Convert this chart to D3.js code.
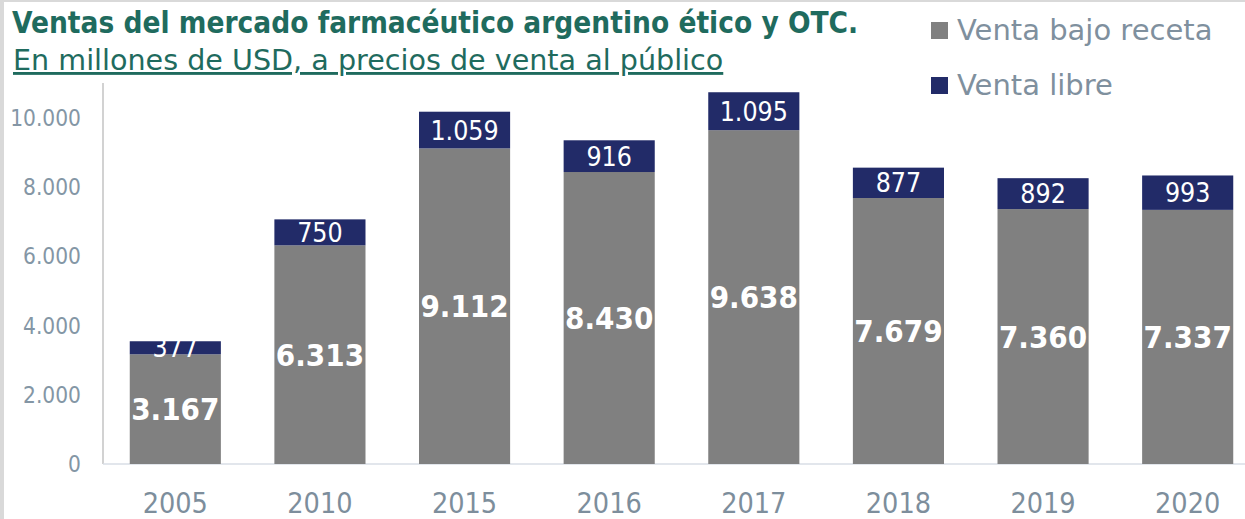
<!DOCTYPE html>
<html>
<head>
<meta charset="utf-8">
<script src="https://cdn.jsdelivr.net/npm/d3@7"></script>
<style>
body { margin: 0; background: #fff; }
text { font-family: "DejaVu Sans", sans-serif; }
.cond { font-family: "DejaVu Sans Condensed", "DejaVu Sans", sans-serif; font-stretch: condensed; }
</style>
</head>
<body>
<div id="chart"></div>
<script>
var years = ["2005", "2010", "2015", "2016", "2017", "2018", "2019", "2020"];
var bajoReceta = [3167, 6313, 9112, 8430, 9638, 7679, 7360, 7337];
var ventaLibre = [377, 750, 1059, 916, 1095, 877, 892, 993];
var yTicks = [0, 2000, 4000, 6000, 8000, 10000];
var seriesNames = ["Venta bajo receta", "Venta libre"];
var colors = ["#808080", "#222b68"];

var width = 1245, height = 519;
var fmt = function(v) { return d3.format(",")(v).replace(/,/g, "."); };

var svg = d3.select("#chart")
    .append("svg")
    .attr("width", width)
    .attr("height", height);

// frame
svg.append("rect").attr("x", 0).attr("y", 0).attr("width", width).attr("height", height).style("fill", "#fff");
svg.append("rect").attr("x", 0).attr("y", 0).attr("width", width).attr("height", 2).style("fill", "#d9d9d9");
svg.append("rect").attr("x", 0).attr("y", 0).attr("width", 4).attr("height", height).style("fill", "#d9d9d9");

var x = d3.scaleBand()
    .domain(years)
    .range([103, 1260])
    .paddingInner(0.37)
    .paddingOuter(0.185);
var y = d3.scaleLinear()
    .domain([0, 11000])
    .range([464, 83]);

var data = years.map(function(yr, i) {
    return { year: yr, a: bajoReceta[i], b: ventaLibre[i] };
});

// axes
svg.append("line")
    .attr("x1", 103).attr("x2", 103)
    .attr("y1", y(11000)).attr("y2", y(0))
    .style("stroke", "#c3c3c3").style("stroke-width", 1.5);
svg.append("line")
    .attr("x1", 103).attr("x2", width)
    .attr("y1", y(0)).attr("y2", y(0))
    .style("stroke", "#d8dee6").style("stroke-width", 1.5);

svg.selectAll(".ytick")
    .data(yTicks)
    .enter().append("text")
    .attr("class", "ytick cond")
    .attr("x", 81)
    .attr("y", function(d) { return y(d); })
    .attr("dy", "0.36em")
    .style("text-anchor", "end")
    .style("font-size", "22.5px")
    .style("fill", "#8496a5")
    .text(fmt);

svg.selectAll(".xtick")
    .data(years)
    .enter().append("text")
    .attr("class", "xtick cond")
    .attr("x", function(d) { return x(d) + x.bandwidth() / 2; })
    .attr("y", 513)
    .style("text-anchor", "middle")
    .style("font-size", "28.5px")
    .style("fill", "#7d8e9c")
    .text(function(d) { return d; });

// bars
var groups = svg.selectAll(".bar")
    .data(data)
    .enter().append("g")
    .attr("class", "bar");
groups.append("rect")
    .attr("x", function(d) { return x(d.year); })
    .attr("y", function(d) { return y(d.a); })
    .attr("width", x.bandwidth())
    .attr("height", function(d) { return y(0) - y(d.a); })
    .style("fill", colors[0]);
groups.append("rect")
    .attr("x", function(d) { return x(d.year); })
    .attr("y", function(d) { return y(d.a + d.b); })
    .attr("width", x.bandwidth())
    .attr("height", function(d) { return y(d.a) - y(d.a + d.b); })
    .style("fill", colors[1]);
groups.append("text")
    .attr("class", "cond")
    .attr("x", function(d) { return x(d.year) + x.bandwidth() / 2; })
    .attr("y", function(d) { return (y(0) + y(d.a)) / 2; })
    .attr("dy", "0.36em")
    .style("text-anchor", "middle")
    .style("font-size", "31px")
    .style("font-weight", "bold")
    .style("fill", "#fff")
    .text(function(d) { return fmt(d.a); });
groups.append("text")
    .attr("class", "cond")
    .attr("x", function(d) { return x(d.year) + x.bandwidth() / 2; })
    .attr("y", function(d) { return (y(d.a) + y(d.a + d.b)) / 2; })
    .attr("dy", "0.36em")
    .style("text-anchor", "middle")
    .style("font-size", "26.5px")
    .style("fill", "#fff")
    .text(function(d) { return fmt(d.b); });

// titles
svg.append("text")
    .attr("class", "cond")
    .attr("x", 12).attr("y", 33)
    .style("font-size", "29.5px")
    .style("font-weight", "bold")
    .style("fill", "#1f6b5e")
    .text("Ventas del mercado farmacéutico argentino ético y OTC.");
svg.append("text")
    .attr("x", 13).attr("y", 70)
    .style("font-size", "28.6px")
    .style("fill", "#1f6b5e")
    .style("text-decoration", "underline")
    .text("En millones de USD, a precios de venta al público");

// legend
var legend = svg.selectAll(".legend")
    .data(seriesNames)
    .enter().append("g")
    .attr("class", "legend");
legend.append("rect")
    .attr("x", 931)
    .attr("y", function(d, i) { return 22 + i * 55; })
    .attr("width", 17).attr("height", 17)
    .style("fill", function(d, i) { return colors[i]; });
legend.append("text")
    .attr("x", 957)
    .attr("y", function(d, i) { return 40 + i * 55; })
    .style("font-size", "29px")
    .style("fill", "#7f909e")
    .text(function(d) { return d; });
</script>
</body>
</html>
